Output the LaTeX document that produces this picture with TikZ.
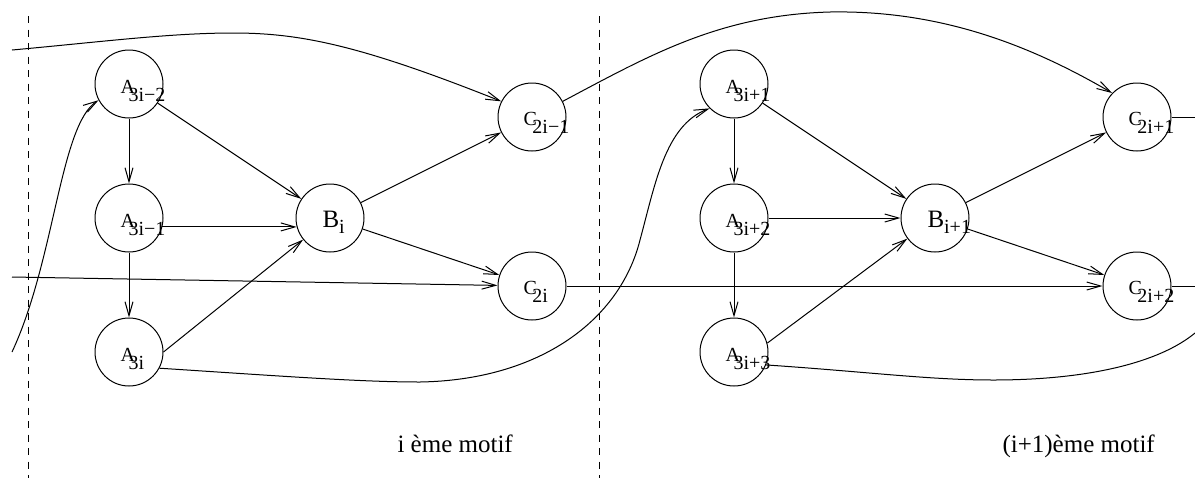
\documentclass[tikz,border=0pt]{standalone}
\usepackage{fontspec}
\setmainfont{Liberation Serif}
\usetikzlibrary{arrows.meta}
\begin{document}
\begin{tikzpicture}[x=0.5pt,y=-0.5pt, line width=0.5pt,
  circ/.style={circle,draw,minimum size=34pt,inner sep=0pt},
  lbl/.style={anchor=base west,inner sep=0pt,font=\fontsize{10}{12}\selectfont},
  big/.style={anchor=base west,inner sep=0pt,font=\fontsize{12.5}{15}\selectfont},
  arr/.style={-{Straight Barb[length=7pt,width=4pt]}},
  sep/.style={dash pattern=on 3.5pt off 3.25pt}]
\useasboundingbox (0,0) rectangle (1195,478);
\newcommand{\asub}[1]{A\kern-3.2pt\raisebox{-4pt}{#1}}
\newcommand{\csub}[1]{C\kern-2.2pt\raisebox{-4pt}{#1}}
% separators
\coordinate (s1t) at (28,16); \coordinate (s1b) at (28,478);
\coordinate (s2t) at (599,16); \coordinate (s2b) at (599,478);
\draw[sep] (s1t) -- (s1b);
\draw[sep] (s2t) -- (s2b);
% nodes
\node[circ] (a1) at (129,84) {};
\node[circ] (a2) at (129,218) {};
\node[circ] (a3) at (129,352) {};
\node[circ] (b1) at (330,218) {};
\node[circ] (c1) at (532,117) {};
\node[circ] (c2) at (532,286) {};
\node[circ] (a4) at (734,84) {};
\node[circ] (a5) at (734,218) {};
\node[circ] (a6) at (734,352) {};
\node[circ] (b2) at (935,218) {};
\node[circ] (c3) at (1137,117) {};
\node[circ] (c4) at (1137,286) {};
% labels
\node[lbl] (a1t) at ([xshift=-4.5pt,yshift=-4.5pt]a1.center) {\asub{3i−2}};
\node[lbl] (a2t) at ([xshift=-4.5pt,yshift=-4.5pt]a2.center) {\asub{3i−1}};
\node[lbl] (a3t) at ([xshift=-4.5pt,yshift=-4.5pt]a3.center) {\asub{3i}};
\node[lbl] (a4t) at ([xshift=-4.5pt,yshift=-4.5pt]a4.center) {\asub{3i+1}};
\node[lbl] (a5t) at ([xshift=-4.5pt,yshift=-4.5pt]a5.center) {\asub{3i+2}};
\node[lbl] (a6t) at ([xshift=-4.5pt,yshift=-4.5pt]a6.center) {\asub{3i+3}};
\node[lbl] (c1t) at ([xshift=-4.5pt,yshift=-4pt]c1.center) {\csub{2i−1}};
\node[lbl] (c2t) at ([xshift=-4.5pt,yshift=-4pt]c2.center) {\csub{2i}};
\node[lbl] (c3t) at ([xshift=-4.5pt,yshift=-4pt]c3.center) {\csub{2i+1}};
\node[lbl] (c4t) at ([xshift=-4.5pt,yshift=-4pt]c4.center) {\csub{2i+2}};
\node[lbl,font=\fontsize{12.5}{15}\selectfont] (b1t) at ([xshift=-4pt,yshift=-4.5pt]b1.center) {B\raisebox{-3pt}{\fontsize{10}{12}\selectfont i}};
\node[lbl,font=\fontsize{12.5}{15}\selectfont] (b2t) at ([xshift=-4pt,yshift=-4.5pt]b2.center) {B\raisebox{-3pt}{\fontsize{10}{12}\selectfont i+1}};
\node[big] (m1) at (397,452) {i ème motif};
\node[big] (m2) at (1002,452) {(i+1)ème motif};
% left motif edges
\draw[arr] (a1) -- (a2);
\draw[arr] (a2) -- (a3);
\draw[arr] (a1) -- (b1);
\draw[arr] (a2.-15) -- (b1.-165);
\draw[arr] (a3.east) -- (b1);
\draw[arr] (b1) -- (c1);
\draw[arr] (b1) -- (c2);
% right motif edges
\draw[arr] (a4) -- (a5);
\draw[arr] (a5) -- (a6);
\draw[arr] (a4) -- (b2);
\draw[arr] (a5) -- (b2);
\draw[arr] (a6.15) -- (b2);
\draw[arr] (b2) -- (c3);
\draw[arr] (b2) -- (c4);
% long connectors
\coordinate (l1) at (12,50);
\coordinate (l2) at (12,277);
\coordinate (l3) at (12,352);
\coordinate (r1) at (1195,117);
\coordinate (r2) at (1195,286);
\coordinate (r3) at (1195,333);
\draw[arr] (l1) .. controls (100,42) and (170,33) .. (233,33)
  .. controls (300,33) and (360,45) .. (c1.153);
\draw[arr] (l2) -- (c2);
\draw[arr] (l3) .. controls (55,260) and (60,125) .. (a1.208);
\draw[arr] (c1.27) .. controls (650,55) and (720,15) .. (830,12)
  .. controls (940,10) and (1030,45) .. (c3.136);
\draw[arr] (c2) -- (c4);
\draw[arr] (a3.-28) .. controls (280,376) and (360,382) .. (420,382)
  .. controls (540,380) and (620,320) .. (640,240)
  .. controls (655,185) and (665,125) .. (a4.225);
\draw (a6.-22) .. controls (870,372) and (930,380) .. (993,380)
  .. controls (1090,380) and (1160,362) .. (r3);
\draw (c3.east) -- (r1);
\draw (c4.east) -- (r2);
\end{tikzpicture}
\end{document}
